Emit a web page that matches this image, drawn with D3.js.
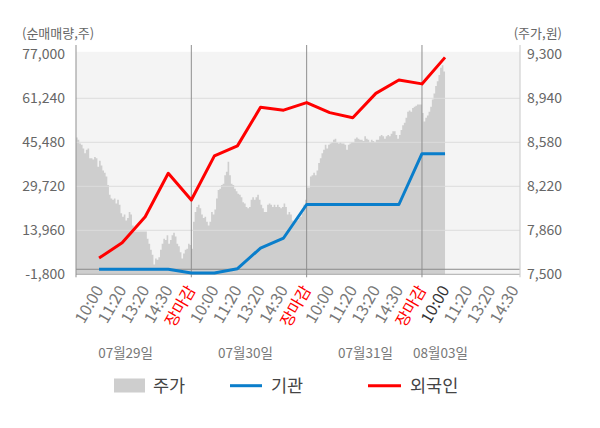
<!DOCTYPE html>
<html>
<head>
<meta charset="utf-8">
<script src="https://cdn.jsdelivr.net/npm/d3@7"></script>
<style>
  html, body { margin: 0; padding: 0; background: #fff; }
  svg { display: block; font-family: "Noto Sans CJK KR", "Noto Sans", sans-serif; }
</style>
</head>
<body>
<svg id="chart" width="600" height="428"></svg>
<script>
// ---------------- data ----------------
const days = ["07월29일", "07월30일", "07월31일", "08월03일"];
const timeLabels = ["10:00", "11:20", "13:20", "14:30", "장마감"];
const leftTicks = [-1800, 13960, 29720, 45480, 61240, 77000];
const rightTicks = [7500, 7860, 8220, 8580, 8940, 9300];
const leftTitle = "(순매매량,주)";
const rightTitle = "(주가,원)";
const seriesNames = ["주가", "기관", "외국인"];

// stock price, sampled evenly through each trading day
const price0729 = [8620, 8600, 8570, 8560, 8530, 8490, 8520, 8530, 8450, 8450,
  8440, 8460, 8450, 8380, 8430, 8390, 8350, 8330, 8300, 8230,
  8150, 8120, 8110, 8120, 8080, 8110, 8070, 8000, 7970, 7990,
  7940, 7960, 8010, 7990, 7900, 7850, 7850, 7850, 7850, 7850,
  7850, 7850, 7850, 7790, 7750, 7700, 7660, 7580, 7630, 7620,
  7640, 7700, 7750, 7790, 7780, 7820, 7750, 7780, 7820, 7840,
  7810, 7750, 7730, 7680, 7630, 7670, 7700, 7710, 7750, 7740];
const price0730 = [7710, 7930, 8010, 8050, 8070, 8040, 7990, 7960, 7970, 7930,
  7900, 7930, 8010, 7990, 8030, 8120, 8190, 8200, 8230, 8240,
  8310, 8340, 8420, 8310, 8240, 8230, 8200, 8180, 8160, 8150,
  8130, 8090, 8080, 8050, 8040, 8050, 8110, 8130, 8110, 8130,
  8150, 8110, 8070, 8040, 8010, 8010, 8070, 8080, 8070, 8050,
  8070, 8050, 8070, 8050, 8040, 8050, 8080, 8050, 7990, 8010,
  7990, 7940, 7920, 7930, 7940, 7960, 7970, 8000, 8070, 8110];
const price0731 = [8210, 8210, 8300, 8310, 8330, 8310, 8350, 8410, 8450, 8490,
  8520, 8560, 8530, 8560, 8570, 8580, 8600, 8610, 8580, 8570,
  8580, 8570, 8570, 8560, 8520, 8560, 8570, 8580, 8580, 8610,
  8620, 8610, 8600, 8600, 8590, 8630, 8610, 8600, 8580, 8600,
  8590, 8580, 8600, 8600, 8630, 8640, 8630, 8610, 8630, 8640,
  8630, 8650, 8670, 8670, 8640, 8610, 8640, 8680, 8720, 8740,
  8780, 8830, 8840, 8830, 8860, 8870, 8880, 8890, 8890, 8890];
const price0803 = [8820, 8750, 8780, 8800, 8830, 8870, 8930, 8980, 9040, 9080,
  9130, 9190, 9210, 9160];
const samplesPerDay = 70;

// cumulative net buying (shares), one value per label slot
const institution = [0, 0, 0, 0, -1300, -1300, 200, 7600, 11200, 23200,
  23200, 23200, 23200, 23200, 41400, 41400];
const foreign = [4000, 9500, 18800, 34400, 24800, 40600, 44200, 58000, 57000, 59700,
  56100, 54300, 63000, 67800, 66400, 75900];

// ---------------- layout ----------------
const svg = d3.select("#chart");
const L = 76, R = 520, T = 54.3, B = 274.3;
const slotsPerDay = timeLabels.length;

const x = d3.scaleLinear().domain([0, 3.85]).range([L, R]);
const yL = d3.scaleLinear().domain([leftTicks[0], leftTicks[leftTicks.length - 1]]).range([B, T]);
const yR = d3.scaleLinear().domain([rightTicks[0], rightTicks[rightTicks.length - 1]]).range([B, T]);

// background
svg.append("rect").attr("x", L).attr("y", T - 2.5).attr("width", R - L).attr("height", B - T + 2.5)
  .attr("fill", "#f4f4f4");

// price area
const priceDays = [price0729, price0730, price0731, price0803];
const pricePts = [];
priceDays.forEach((arr, d) => arr.forEach((v, i) => pricePts.push({ t: d + i / samplesPerDay, v })));
const lastP = pricePts[pricePts.length - 1];
pricePts.push({ t: lastP.t + 1 / samplesPerDay, v: lastP.v });
svg.append("path")
  .datum(pricePts)
  .attr("fill", "#cecece")
  .attr("d", d3.area().curve(d3.curveStepAfter)
    .x(p => x(p.t)).y0(B).y1(p => yR(p.v)));

// gridlines
svg.append("g").selectAll("line").data(leftTicks.slice(1, -1)).join("line")
  .attr("x1", L).attr("x2", R).attr("y1", d => yL(d)).attr("y2", d => yL(d))
  .attr("stroke", "#dcdcdc").attr("stroke-width", 1);

// zero line and bottom axis line
svg.append("line").attr("x1", L).attr("x2", R).attr("y1", yL(0)).attr("y2", yL(0))
  .attr("stroke", "#8a8a8a").attr("stroke-width", 1);
svg.append("line").attr("x1", L).attr("x2", R).attr("y1", B).attr("y2", B)
  .attr("stroke", "#aaaaaa").attr("stroke-width", 1);

// day separators + left axis
svg.append("g").selectAll("line").data([0, 1, 2, 3]).join("line")
  .attr("x1", d => x(d)).attr("x2", d => x(d)).attr("y1", 45).attr("y2", B + 3)
  .attr("stroke", "#8f8f8f").attr("stroke-width", 1);
// right axis
svg.append("line").attr("x1", R).attr("x2", R).attr("y1", 45).attr("y2", B + 3)
  .attr("stroke", "#d0d0d0").attr("stroke-width", 1.2);

// left ticks
svg.append("g").selectAll("text").data(leftTicks).join("text")
  .attr("x", 65).attr("y", d => yL(d)).attr("dy", "0.35em")
  .attr("text-anchor", "end").attr("font-size", 14).attr("fill", "#666")
  .text(d => d3.format(",")(d).replace("−", "-"));
// right ticks
svg.append("g").selectAll("text").data(rightTicks).join("text")
  .attr("x", 527).attr("y", d => yR(d)).attr("dy", "0.35em")
  .attr("text-anchor", "start").attr("font-size", 14).attr("fill", "#666")
  .text(d => d3.format(",")(d));
// axis titles
svg.append("text").attr("x", 22).attr("y", 33).attr("dy", "0.35em")
  .attr("font-size", 13).attr("fill", "#666").text(leftTitle);
svg.append("text").attr("x", 562).attr("y", 33).attr("dy", "0.35em").attr("text-anchor", "end")
  .attr("font-size", 13).attr("fill", "#666").text(rightTitle);

// x tick labels
const xLabels = [];
days.forEach((day, d) => timeLabels.forEach((lab, k) => {
  if (d === days.length - 1 && k === slotsPerDay - 1) return;
  xLabels.push({ t: d + (k + 1) / slotsPerDay, lab, d, k });
}));
svg.append("g").selectAll("text").data(xLabels).join("text")
  .attr("transform", p => `translate(${x(p.t)},287) rotate(-60)`)
  .attr("dy", "0.35em").attr("text-anchor", "end").attr("font-size", 16)
  .attr("fill", p => p.k === slotsPerDay - 1 ? "#ff0000" : (p.d === days.length - 1 && p.k === 0 ? "#333" : "#777"))
  .text(p => p.lab);

// date labels
const dateOffsets = [0.43, 0.47, 0.51, 0.16];
svg.append("g").selectAll("text").data(days).join("text")
  .attr("x", (d, i) => x(i + dateOffsets[i])).attr("y", 353).attr("dy", "0.35em")
  .attr("text-anchor", "middle").attr("font-size", 13.5).attr("fill", "#777")
  .text(d => d);

// flow lines
const flowX = i => x((i + 1) / slotsPerDay);
const line = yScale => d3.line().x((v, i) => flowX(i)).y(v => yScale(v));
svg.append("path").datum(institution).attr("fill", "none").attr("stroke", "#0a7ecb")
  .attr("stroke-width", 3).attr("stroke-linejoin", "round").attr("d", line(yL));
svg.append("path").datum(foreign).attr("fill", "none").attr("stroke", "#ff0000")
  .attr("stroke-width", 3).attr("stroke-linejoin", "round").attr("d", line(yL));

// legend
const lg = svg.append("g");
lg.append("rect").attr("x", 114).attr("y", 378.5).attr("width", 31).attr("height", 14).attr("fill", "#cecece");
lg.append("line").attr("x1", 230).attr("x2", 262).attr("y1", 385.7).attr("y2", 385.7)
  .attr("stroke", "#0a7ecb").attr("stroke-width", 3);
lg.append("line").attr("x1", 368).attr("x2", 401).attr("y1", 385.7).attr("y2", 385.7)
  .attr("stroke", "#ff0000").attr("stroke-width", 3);
lg.selectAll("text.lt").data(seriesNames).join("text").attr("class", "lt")
  .attr("x", (d, i) => [153, 271, 410][i]).attr("y", 385.5).attr("dy", "0.35em")
  .attr("font-size", 17.5).attr("fill", "#444").text(d => d);
</script>
</body>
</html>
